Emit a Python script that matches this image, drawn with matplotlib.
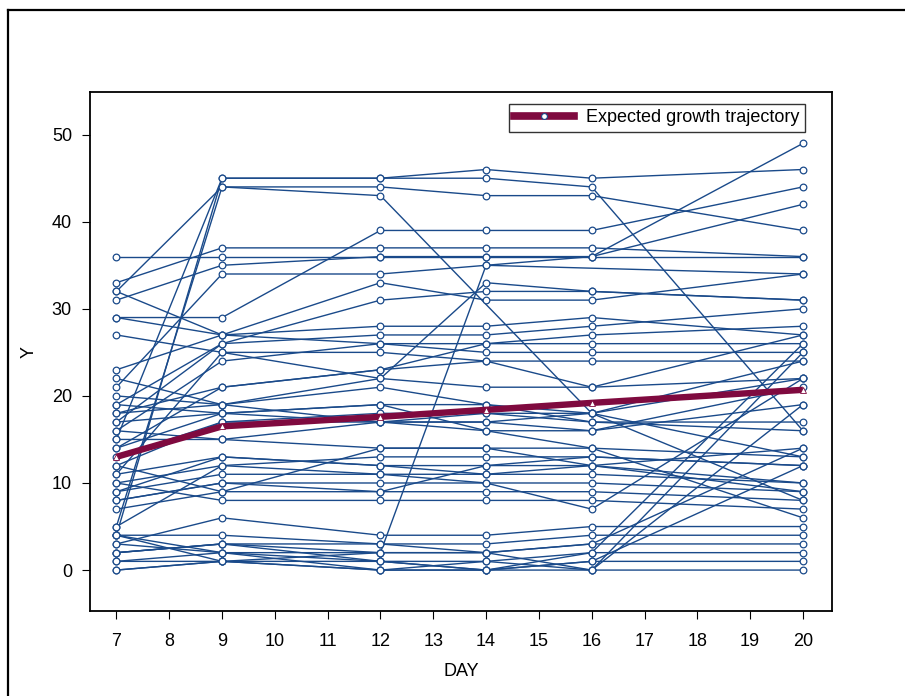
import numpy as np
import matplotlib
matplotlib.use("Agg")
import matplotlib.pyplot as plt
from matplotlib.lines import Line2D

plt.rcParams['font.family'] = ['Liberation Sans', 'DejaVu Sans']

# measurement days
days = np.array([7, 9, 12, 14, 16, 20])

# individual trajectories (Y at each day, nan = not observed)
nan = np.nan
t01 = [36, 36, 36, 36, 36, 36]
t02 = [32, 44, 44, 43, 43, 39]
t03 = [15, 45, 45, 46, 45, 46]
t04 = [4, 45, 45, 45, 44, 16]
t05 = [5, 44, 43, nan, 18, 8]
t06 = [33, 37, 37, 37, 37, 36]
t07 = [31, 35, 36, 36, 36, 49]
t08 = [29, 29, 39, 39, 39, 44]
t09 = [21, 34, 34, 35, 36, 42]
t10 = [23, 27, 33, 31, 31, 34]
t11 = [17, 26, 31, 32, 32, 31]
t12 = [29, 27, 28, 28, 29, 27]
t13 = [19, 26, 27, 27, 28, 30]
t14 = [32, 27, 26, 26, 26, 26]
t15 = [16, 24, 26, 25, 25, 25]
t16 = [27, 25, 25, 24, 24, 24]
t17 = [18, 21, 23, 26, 27, 28]
t18 = [22, 19, 22, 21, 21, 22]
t19 = [20, 19, 21, 19, 18, 13]
t20 = [14, 18, 19, 19, 17, 17]
t21 = [12, 17, 18, 18, 17, 16]
t22 = [16, 15, 17, 17, 16, 19]
t23 = [11, 13, 12, 12, 12, 14]
t24 = [10, 12, 13, 13, 13, 12]
t25 = [9, 11, 11, 11, 11, 10]
t26 = [8, 10, 10, 10, 10, 9]
t27 = [7, 9, 9, 9, 9, 8]
t28 = [10, 8, 8, 8, 8, 7]
t29 = [12, 9, 14, 14, 14, 6]
t30 = [3, 6, 4, 4, 5, 5]
t31 = [4, 4, 3, 3, 4, 4]
t32 = [2, 3, 2, 2, 3, 3]
t33 = [1, 2, 1, 1, 2, 2]
t34 = [0, 1, 0, 0, 1, 1]
t35 = [4, 1, 2, 2, 0, 0]
t36 = [3, 2, 2, 35, nan, 34]
t37 = [2, 3, 1, 0, 2, 26]
t38 = [4, 2, 0, 1, 0, 25]
t39 = [14, 21, 23, 24, 21, 27]
t40 = [19, 18, 17, 16, 16, 21]
t41 = [11, 25, 22, 33, 32, 31]
t42 = [9, 13, 12, 11, 12, 10]
t43 = [13, 17, 17, 18, 18, 22]
t44 = [8, 10, 9, 12, 13, 12]
t45 = [17, 18, 19, 16, 14, 13]
t46 = [5, 12, 11, 10, 7, 22]
t47 = [15, 15, 14, 14, 12, 9]
t48 = [18, 19, 17, 17, 18, 24]
t49 = [1, 1, 1, 0, 1, 12]
t50 = [0, 1, 0, 0, 0, 19]
t51 = [2, 3, 3, 2, 3, 14]

subjects = [t01, t02, t03, t04, t05, t06, t07, t08, t09, t10, t11, t12, t13,
            t14, t15, t16, t17, t18, t19, t20, t21, t22, t23, t24, t25, t26,
            t27, t28, t29, t30, t31, t32, t33, t34, t35, t36, t37, t38, t39,
            t40, t41, t42, t43, t44, t45, t46, t47, t48, t49, t50, t51]

# expected growth trajectory
expected = [13.0, 16.5, 17.6, 18.4, 19.2, 20.7]

blue = '#1a4a8a'
maroon = '#7f0a3f'

fig = plt.figure(figsize=(9.05, 6.96), dpi=100)
ax = fig.add_axes([90/905, 1-611/696, (832-90)/905, (611-92)/696])

for s in subjects:
    y = np.array(s, dtype=float)
    m = ~np.isnan(y)
    ax.plot(days[m], y[m], color=blue, lw=1.0, marker='o', ms=4.8,
            mfc='white', mec=blue, mew=0.9, zorder=2)

ax.plot(days, expected, color=maroon, lw=4.6, marker='^', ms=4.8,
        mfc='white', mec=maroon, mew=0.6, zorder=5, solid_capstyle='butt')

ax.set_xlim(6.5, 20.55)
ax.set_ylim(-4.7, 54.9)
ax.set_xticks(range(7, 21))
ax.set_yticks(range(0, 51, 10))
ax.tick_params(direction='out', length=6, width=0.8, labelsize=13)
ax.tick_params(axis='x', pad=10)
ax.tick_params(axis='y', pad=7)
for sp in ax.spines.values():
    sp.set_linewidth(1.3)
ax.set_xlabel('DAY', fontsize=13, labelpad=9)
ax.set_ylabel('Y', fontsize=13, labelpad=10)

handle = Line2D([], [], color=maroon, lw=5.5, marker='o', ms=4.2,
                mfc='white', mec=blue, mew=0.8)
leg = ax.legend([handle], ['Expected growth trajectory'], loc='upper right',
                bbox_to_anchor=(0.9636, 0.977), borderaxespad=0, fontsize=13,
                frameon=True, fancybox=False, edgecolor='black',
                handlelength=3.3, borderpad=0.3, handletextpad=0.7)
leg.get_frame().set_linewidth(1.0)

# outer frame (left and top edges)
fig.add_artist(Line2D([8/905, 8/905], [0, 1-10/696], transform=fig.transFigure,
                      color='black', lw=1.6))
fig.add_artist(Line2D([8/905, 1], [1-10/696, 1-10/696], transform=fig.transFigure,
                      color='black', lw=1.6))

fig.savefig('out.png', dpi=100)
